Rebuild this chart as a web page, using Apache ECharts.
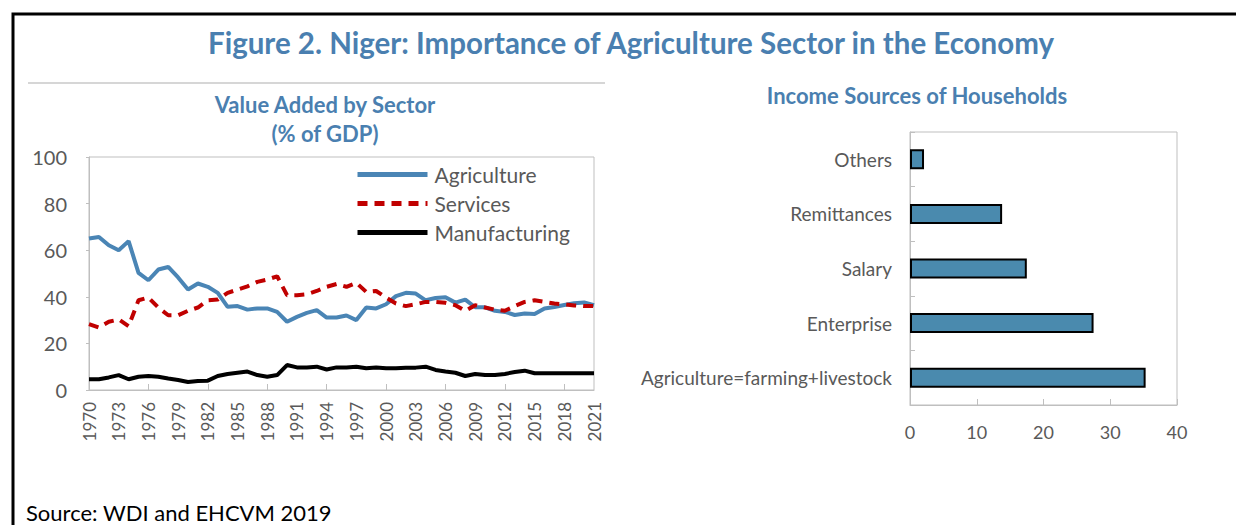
<!DOCTYPE html>
<html>
<head>
<meta charset="utf-8">
<script src="https://cdn.jsdelivr.net/npm/echarts@6/dist/echarts.min.js"></script>
<style>
html,body{margin:0;padding:0;background:#fff;}
#c{width:1236px;height:525px;}
</style>
</head>
<body>
<div id="c"></div>
<script>
const years = [];
for (let y = 1970; y <= 2021; y++) years.push(String(y));
const agriculture = [65.0,65.7,62.1,60.0,63.9,50.3,47.1,51.7,52.8,48.3,43.1,45.7,44.3,41.7,35.7,36.0,34.5,35.0,35.0,33.5,29.3,31.4,33.1,34.3,31.1,31.1,32.0,30.0,35.4,35.0,36.8,40.3,41.7,41.4,38.5,39.5,39.8,37.5,38.8,35.5,35.5,34.0,33.5,32.2,32.8,32.6,35.0,35.6,36.5,37.2,37.6,36.4];
const services = [28.3,26.8,29.3,30.3,27.4,38.5,39.7,35.4,32.1,32.1,34.0,35.4,38.5,38.8,41.7,43.1,44.5,46.4,47.4,48.8,40.7,40.7,41.1,42.5,44.3,45.5,44.3,46.0,42.1,42.5,39.7,37.1,36.0,36.8,37.8,37.8,37.4,36.4,34.0,36.4,35.4,34.5,34.0,36.0,37.8,38.5,37.8,37.1,36.8,36.3,36.0,36.0];
const manufacturing = [4.6,4.6,5.4,6.4,4.6,5.7,6.0,5.7,4.9,4.3,3.4,3.9,4.0,6.0,6.9,7.4,7.9,6.4,5.7,6.4,10.7,9.7,9.7,10.0,8.8,9.7,9.7,10.0,9.3,9.7,9.3,9.3,9.6,9.6,10.0,8.6,7.9,7.4,6.0,6.9,6.4,6.4,6.9,7.7,8.3,7.2,7.2,7.2,7.2,7.2,7.2,7.2];
const lineNames = ['Agriculture','Services','Manufacturing'];
const incomeCategories = ['Agriculture=farming+livestock','Enterprise','Salary','Remittances','Others'];
const incomeValues = [35.3,27.5,17.5,13.8,2.1];

const FONT = 'Lato, "Open Sans", sans-serif';
const GREY = '#595959';
const AXIS = '#BFBFBF';
const TITLE = '#4A7FB0';

const chart = echarts.init(document.getElementById('c'), null, {renderer:'svg'});
chart.setOption({
  backgroundColor:'#fff',
  animation:false,
  textStyle:{fontFamily:FONT},
  grid:[
    {left:89, top:157, width:505, height:233, show:true, borderColor:AXIS, borderWidth:1, backgroundColor:'transparent'},
    {left:910, top:132, width:267, height:273, show:true, borderColor:AXIS, borderWidth:1, backgroundColor:'transparent'}
  ],
  xAxis:[
    {type:'category', gridIndex:0, data:years, boundaryGap:false,
     axisLine:{lineStyle:{color:AXIS}},
     axisTick:{inside:true, length:6, interval:5, lineStyle:{color:AXIS}},
     axisLabel:{interval:2, rotate:90, fontSize:17, color:GREY, margin:12, fontFamily:FONT},
     splitLine:{show:false}},
    {type:'value', gridIndex:1, min:0, max:40, interval:10,
     axisLine:{show:true, lineStyle:{color:AXIS}},
     axisTick:{show:true, inside:true, length:6, lineStyle:{color:AXIS}},
     axisLabel:{fontSize:18, color:GREY, margin:18, fontFamily:FONT},
     splitLine:{show:false}}
  ],
  yAxis:[
    {type:'value', gridIndex:0, min:0, max:100, interval:20,
     axisLine:{show:true, lineStyle:{color:AXIS}},
     axisTick:{show:true, length:3, lineStyle:{color:AXIS}},
     axisLabel:{fontSize:20, color:GREY, margin:22, fontFamily:FONT},
     splitLine:{show:false}},
    {type:'category', gridIndex:1, data:incomeCategories,
     axisLine:{show:true, lineStyle:{color:AXIS}},
     axisTick:{show:true, inside:true, length:5, lineStyle:{color:AXIS}},
     axisLabel:{fontSize:19, color:GREY, margin:18, fontFamily:FONT},
     splitLine:{show:false}}
  ],
  legend:{
    data:lineNames, orient:'vertical', left:355, top:164, padding:0,
    itemWidth:70, itemHeight:14, itemGap:8,
    itemStyle:{opacity:0},
    lineStyle:{width:5},
    textStyle:{fontSize:21, color:GREY, fontFamily:FONT, padding:[0,0,0,2]},
    selectedMode:false
  },
  series:[
    {name:'Agriculture', type:'line', xAxisIndex:0, yAxisIndex:0, data:agriculture,
     symbol:'none', lineStyle:{color:'#4A85B5', width:4}, itemStyle:{color:'#4A85B5'}},
    {name:'Services', type:'line', xAxisIndex:0, yAxisIndex:0, data:services,
     symbol:'none', lineStyle:{color:'#C00000', width:4, type:[10,7]}, itemStyle:{color:'#C00000'}},
    {name:'Manufacturing', type:'line', xAxisIndex:0, yAxisIndex:0, data:manufacturing,
     symbol:'none', lineStyle:{color:'#000000', width:4}, itemStyle:{color:'#000000'}},
    {name:'Income', type:'bar', xAxisIndex:1, yAxisIndex:1, data:incomeValues,
     barWidth:20, itemStyle:{color:'#4A8AAE', borderColor:'#000', borderWidth:2}}
  ],
  graphic:[
    {type:'polyline', shape:{points:[[1236,14],[13,14],[13,525]]}, style:{stroke:'#000', lineWidth:3, fill:null}},
    {type:'line', shape:{x1:28,y1:83,x2:605,y2:83}, style:{stroke:'#C8C8C8', lineWidth:1.5}},
    {type:'text', x:631, y:42, style:{text:'Figure 2. Niger: Importance of Agriculture Sector in the Economy', font:'bold 29.5px '+FONT, fill:TITLE, textAlign:'center', textVerticalAlign:'middle'}},
    {type:'text', x:325, y:104, style:{text:'Value Added by Sector', font:'bold 22px '+FONT, fill:TITLE, textAlign:'center', textVerticalAlign:'middle'}},
    {type:'text', x:325, y:133, style:{text:'(% of GDP)', font:'bold 22px '+FONT, fill:TITLE, textAlign:'center', textVerticalAlign:'middle'}},
    {type:'text', x:917, y:95, style:{text:'Income Sources of Households', font:'bold 22px '+FONT, fill:TITLE, textAlign:'center', textVerticalAlign:'middle'}},
    {type:'text', x:26, y:512, style:{text:'Source: WDI and EHCVM 2019', font:'22px '+FONT, fill:'#000', textAlign:'left', textVerticalAlign:'middle'}}
  ]
});
</script>
</body>
</html>
